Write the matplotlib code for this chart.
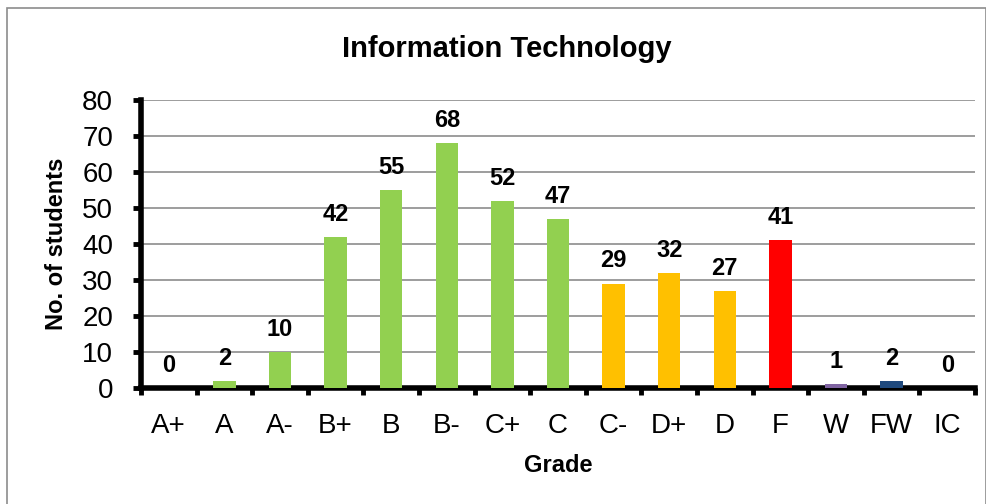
import matplotlib.pyplot as plt
from matplotlib.patches import Rectangle
import numpy as np

grades = ["A+", "A", "A-", "B+", "B", "B-", "C+", "C", "C-", "D+", "D", "F", "W", "FW", "IC"]
counts = [0, 2, 10, 42, 55, 68, 52, 47, 29, 32, 27, 41, 1, 2, 0]
colors = ["#92D050"] * 8 + ["#FFC000"] * 3 + ["#FF0000", "#8064A2", "#1F497D", "#92D050"]

plt.rcParams['font.family'] = ['Liberation Sans', 'DejaVu Sans']

fig = plt.figure(figsize=(9.87, 5.04), dpi=100)
# outer chart border
fig.add_artist(Rectangle((7 / 987, -0.05), (986 - 7) / 987, 1 - 8 / 504 + 0.05,
                         transform=fig.transFigure, fill=False, edgecolor="#8c8c8c", lw=1.2))

ax = fig.add_axes([141 / 987, 1 - 388 / 504, (975 - 141) / 987, (388 - 100) / 504])
x = np.arange(len(grades))
ax.bar(x, counts, width=0.4, color=colors, zorder=3)

for xi, v in zip(x, counts):
    ax.text(xi, v + 6.3, str(v), ha="center", va="center", fontsize=17, fontweight="bold")

ax.set_xlim(-0.5, len(grades) - 0.5)
ax.set_ylim(0, 80)
ax.set_yticks(range(0, 81, 10))
ax.yaxis.grid(True, color="#8c8c8c", lw=1.2, zorder=0)
ax.set_axisbelow(True)

ax.set_xticks(x)
ax.set_xticklabels(grades, fontsize=20)
ax.set_xticks(np.arange(-0.5, len(grades), 1), minor=True)
ax.tick_params(axis="x", which="major", length=0, pad=18)
ax.tick_params(axis="x", which="minor", length=5, width=3.5, direction="out")
ax.tick_params(axis="y", labelsize=20, length=6, width=3.5, pad=14)

for s in ["top", "right"]:
    ax.spines[s].set_visible(False)
for s in ["left", "bottom"]:
    ax.spines[s].set_linewidth(4)
    ax.spines[s].set_color("black")

ax.set_ylabel("No. of students", fontsize=17, fontweight="bold", labelpad=10)
ax.set_xlabel("Grade", fontsize=17, fontweight="bold", labelpad=11)
fig.text(507 / 987, 1 - 49 / 504, "Information Technology",
         ha="center", va="center", fontsize=21, fontweight="bold")

fig.savefig("out.png", dpi=100)
